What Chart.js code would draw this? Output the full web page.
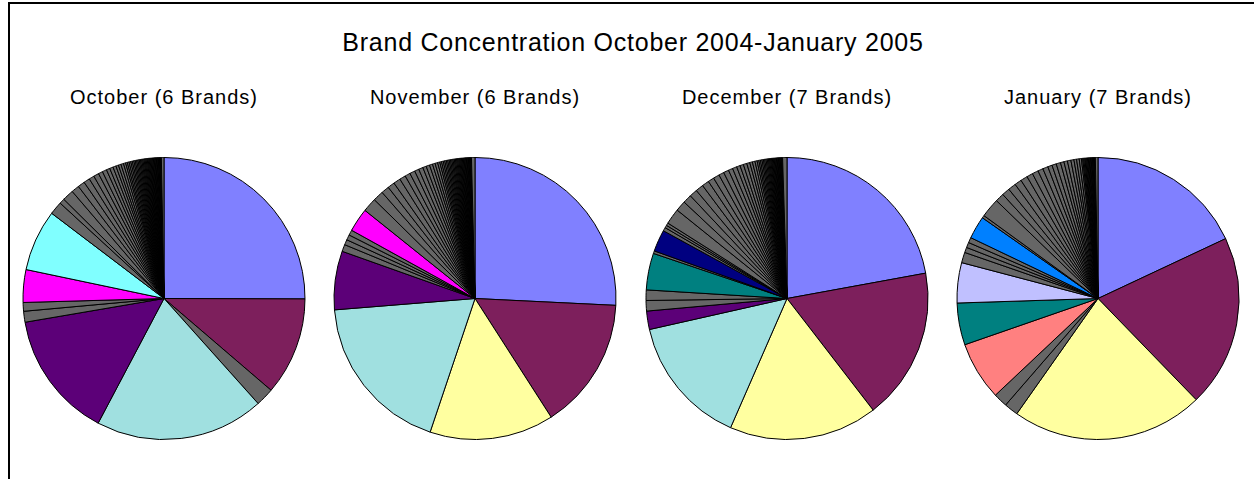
<!DOCTYPE html>
<html lang="en">
<head>
<meta charset="UTF-8">
<title>Brand Concentration October 2004-January 2005</title>
<script src="https://cdn.jsdelivr.net/npm/chart.js"></script>
<style>
  html, body { margin: 0; padding: 0; background: #fff; }
  body { width: 1254px; height: 479px; position: relative; overflow: hidden; font-family: "Liberation Sans", Arial, sans-serif; color: #000; }
  .frame { position: absolute; left: 8px; top: 2px; width: 1300px; height: 520px; border-left: 2px solid #000; border-top: 2px solid #000; }
  h1 { position: absolute; left: 0; width: 1266px; top: 27px; margin: 0; text-align: center; font-weight: normal; font-size: 25px; letter-spacing: 0.75px; line-height: 30px; }
  .sub { position: absolute; top: 85px; width: 310px; text-align: center; font-size: 20px; letter-spacing: 1px; line-height: 24px; }
  .pie { position: absolute; top: 157px; width: 310px; height: 283px; }
</style>
</head>
<body>
<div class="frame"></div>
<h1>Brand Concentration October 2004-January 2005</h1>
<div class="sub" style="left:9px">October (6 Brands)</div>
<div class="sub" style="left:320px">November (6 Brands)</div>
<div class="sub" style="left:632px">December (7 Brands)</div>
<div class="sub" style="left:943px">January (7 Brands)</div>
<div class="pie" style="left:9px"><canvas id="oct"></canvas></div>
<div class="pie" style="left:320px"><canvas id="nov"></canvas></div>
<div class="pie" style="left:632px"><canvas id="dec"></canvas></div>
<div class="pie" style="left:943px"><canvas id="jan"></canvas></div>

<script>
// shares in percent, clockwise from 12 o'clock; "Other" = small brands (grey)
const octBrands = ['Brand A', 'Brand B', 'Other', 'Brand C', 'Brand E', 'Other', 'Other', 'Brand F', 'Brand G'];
const octShares = [25.1, 11.25, 2.1, 19.4, 14.6, 1.25, 1.0, 3.75, 7.05];
const octOthers = [1.5, 0.6, 1.3, 0.9, 0.8, 0.7, 0.6, 0.6, 0.5, 0.5, 0.4, 0.4, 0.35, 0.3, 0.3, 0.3, 0.25, 0.2,
  0.2, 0.2, 0.18, 0.18, 0.16, 0.16, 0.15, 0.15, 0.14, 0.14, 0.13, 0.13, 0.12, 0.12, 0.12, 0.11, 0.11,
  0.1, 0.1, 0.1, 0.1, 0.09, 0.09, 0.09, 0.08, 0.08, 0.08, 0.07, 0.07, 0.07, 0.06, 0.06, 0.06, 0.05, 0.05, 0.3];

const novBrands = ['Brand A', 'Brand B', 'Brand D', 'Brand C', 'Brand E', 'Other', 'Other', 'Other', 'Other', 'Brand F'];
const novShares = [25.7, 15.1, 14.2, 18.5, 6.7, 0.8, 0.6, 0.6, 0.6, 2.7];
const novOthers = [1.6, 1.2, 0.9, 0.8, 0.8, 0.7, 0.6, 0.6, 0.5, 0.5, 0.4, 0.4, 0.35, 0.3, 0.3, 0.25, 0.2,
  0.2, 0.18, 0.18, 0.16, 0.16, 0.15, 0.15, 0.14, 0.14, 0.13, 0.13, 0.12, 0.12, 0.11, 0.11, 0.1, 0.1,
  0.1, 0.09, 0.09, 0.09, 0.08, 0.08, 0.08, 0.07, 0.07, 0.06, 0.06, 0.06, 0.05, 0.05, 0.4];

const decBrands = ['Brand A', 'Brand B', 'Brand D', 'Brand C', 'Brand E', 'Other', 'Other', 'Brand H', 'Other', 'Brand I'];
const decShares = [22.1, 17.4, 17.0, 14.9, 2.1, 1.2, 1.2, 4.2, 0.3, 2.5];
const decOthers = [0.4, 0.3, 0.3, 1.8, 1.2, 1.0, 0.9, 0.9, 0.8, 0.7, 0.7, 0.6, 0.6, 0.5, 0.5, 0.4, 0.4, 0.4, 0.35, 0.3, 0.3, 0.25,
  0.2, 0.18, 0.18, 0.16, 0.15, 0.15, 0.14, 0.13, 0.12, 0.12, 0.11, 0.1, 0.1, 0.1, 0.09, 0.09,
  0.08, 0.08, 0.08, 0.07, 0.07, 0.07, 0.06, 0.06, 0.06, 0.05, 0.05, 0.05, 0.5];

const janBrands = ['Brand A', 'Brand B', 'Brand D', 'Other', 'Other', 'Brand J', 'Brand H', 'Brand K', 'Other', 'Other', 'Other', 'Other', 'Brand L'];
const janShares = [18.0, 19.7, 22.0, 1.6, 1.6, 6.7, 4.8, 4.6, 1.2, 0.6, 0.6, 0.6, 2.6];
const janOthers = [0.3, 2.2, 1.0, 0.9, 0.9, 0.8, 0.8, 0.7, 0.7, 0.6, 0.6, 0.5, 0.5, 0.5, 0.4, 0.4, 0.4, 0.35, 0.3, 0.3, 0.25,
  0.15, 0.12, 0.12, 0.1, 0.1, 0.1, 0.09, 0.09, 0.08, 0.08, 0.08, 0.07, 0.07, 0.06, 0.06, 0.06, 0.05, 0.05, 0.05, 0.3];

const brandColors = {
  'Brand A': '#8080FF', 'Brand B': '#7D1F5C', 'Brand C': '#A0E0E0', 'Brand D': '#FFFFA0',
  'Brand E': '#5C0078', 'Brand F': '#FF00FF', 'Brand G': '#80FFFF', 'Brand H': '#008080',
  'Brand I': '#000080', 'Brand J': '#FF8080', 'Brand K': '#C0C0FF', 'Brand L': '#0080FF',
  'Other': '#666666'
};

function drawPie(id, brands, shares, others) {
  const labels = brands.concat(others.map(() => 'Other'));
  const data = shares.concat(others);
  new Chart(document.getElementById(id), {
    type: 'pie',
    data: {
      labels: labels,
      datasets: [{
        data: data,
        backgroundColor: labels.map(l => brandColors[l]),
        borderColor: '#000',
        borderWidth: 1,
        hoverOffset: 0
      }]
    },
    options: {
      responsive: true,
      maintainAspectRatio: false,
      animation: false,
      layout: { padding: 0 },
      plugins: {
        legend: { display: false },
        tooltip: { enabled: false }
      }
    }
  });
}

drawPie('oct', octBrands, octShares, octOthers);
drawPie('nov', novBrands, novShares, novOthers);
drawPie('dec', decBrands, decShares, decOthers);
drawPie('jan', janBrands, janShares, janOthers);
</script>
</body>
</html>
